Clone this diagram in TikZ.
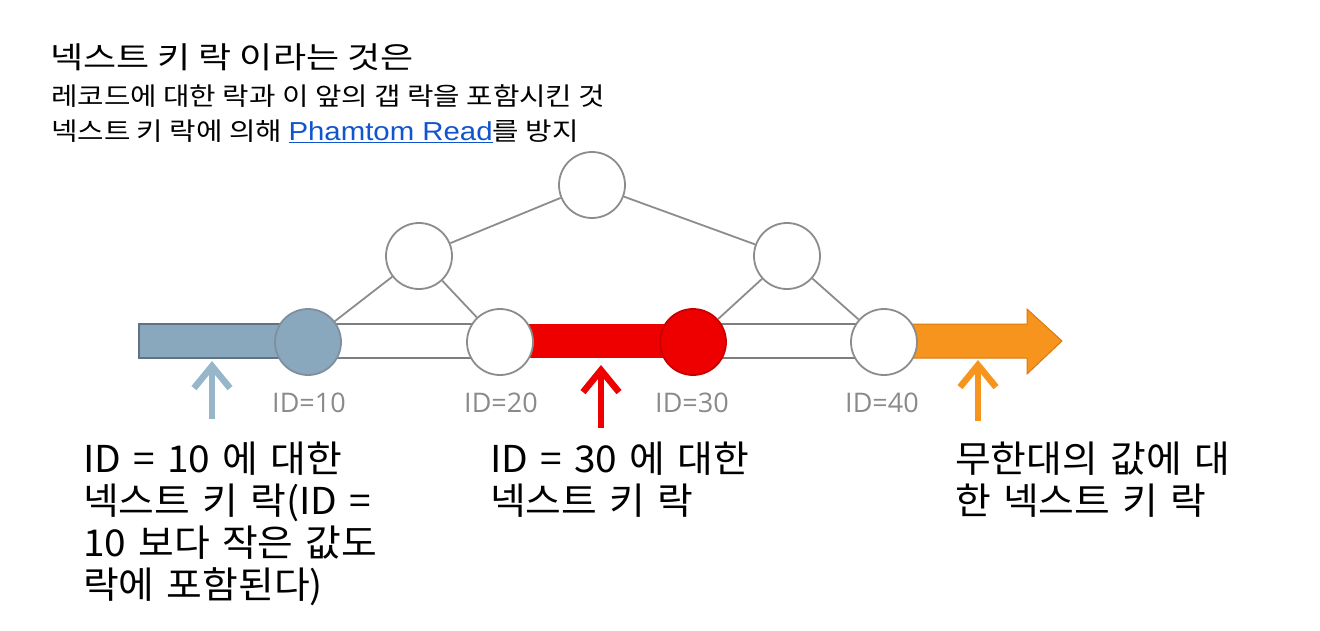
\documentclass[tikz,border=0pt]{standalone}
\usepackage{fontspec}
\setmainfont{Noto Sans CJK KR}
\newfontfamily\krtitle{Noto Sans CJK KR}[FakeStretch=1.2]
\newfontfamily\krsub{Noto Sans CJK KR}[FakeStretch=1.15]
\newfontfamily\latinsub{Liberation Sans}[FakeStretch=1.13]
\newfontfamily\krbig{Noto Sans CJK KR}[FakeStretch=1.05, WordSpace=1.4]
\newfontfamily\idfont{Open Sans}
\usetikzlibrary{arrows.meta}
\definecolor{bluegray}{HTML}{8AA8BD}
\definecolor{bluegrayedge}{HTML}{5F7384}
\definecolor{arrowblue}{HTML}{98B6CA}
\definecolor{lockred}{HTML}{EE0000}
\definecolor{lockredge}{HTML}{C80000}
\definecolor{lockorange}{HTML}{F7941D}
\definecolor{orangeedge}{HTML}{D97A10}
\definecolor{treegray}{HTML}{8C8C8C}
\definecolor{idgray}{HTML}{8A8A8A}
\definecolor{linkblue}{HTML}{1155CC}
\tikzset{
  treenode/.style={circle, draw=treegray, line width=1.8pt, fill=white, minimum size=66pt, inner sep=0pt},
  treeline/.style={draw=treegray, line width=1.8pt},
  rail/.style={draw=treegray!90!black, line width=1.8pt},
  idlabel/.style={font=\idfont\fontsize{27}{30}\selectfont, text=idgray, inner sep=0pt},
  uparrow/.style={line width=6.5pt, -{Straight Barb[length=22pt,width=36pt]}},
  bigtext/.style={font=\krbig\fontsize{37}{42}\selectfont, align=left, anchor=north west, inner sep=0pt},
}
\begin{document}
\begin{tikzpicture}[x=1pt,y=-1pt]
\useasboundingbox (0,0) rectangle (1320,630);
% texts at top
\node[anchor=north west, inner sep=0pt, font=\krtitle\fontsize{30}{34}\selectfont] (title) at (50,43) {넥스트 키 락 이라는 것은};
\node[anchor=north west, inner sep=0pt, align=left, font=\krsub\fontsize{25}{35}\selectfont] (sub) at (51,84)
  {레코드에 대한 락과 이 앞의 갭 락을 포함시킨 것\\넥스트 키 락에 의해 {\latinsub\fontsize{26}{35}\selectfont\color{linkblue}\underline{Phamtom Read}}를 방지};
% bar segments
\fill[bluegray] (139,324) rectangle (308,358);
\draw[bluegrayedge, line width=1.2pt] (308,324) -- (139,324) -- (139,358) -- (308,358);
\draw[rail] (308,324) -- (500,324) (308,358) -- (500,358);
\fill[lockred] (500,324) rectangle (693,358);
\draw[rail] (693,324) -- (884,324) (693,358) -- (884,358);
\filldraw[fill=lockorange, draw=orangeedge, line width=1pt] (884,324) -- (1027,324) -- (1027,309) -- (1062,341) -- (1027,374) -- (1027,358) -- (884,358) -- cycle;
% tree nodes
\node[treenode] (root) at (592,185) {};
\node[treenode] (left) at (419,256) {};
\node[treenode] (right) at (787,256) {};
\node[treenode, fill=bluegray, draw=bluegrayedge!80] (k10) at (308,342) {};
\node[treenode] (k20) at (500,342) {};
\node[treenode, fill=lockred, draw=lockredge] (k30) at (693,342) {};
\node[treenode] (k40) at (884,342) {};
\draw[treeline] (root) -- (left);
\draw[treeline] (root) -- (right);
\draw[treeline] (left) -- (k10);
\draw[treeline] (left) -- (k20);
\draw[treeline] (right) -- (k30);
\draw[treeline] (right) -- (k40);
% id labels
\node[idlabel] (l10) at (309,403) {ID=10};
\node[idlabel] (l20) at (501,403) {ID=20};
\node[idlabel] (l30) at (692,403) {ID=30};
\node[idlabel] (l40) at (882,403) {ID=40};
% up arrows
\coordinate (a1b) at (212,419); \coordinate (a1t) at (212,361);
\coordinate (a2b) at (601,428); \coordinate (a2t) at (601,365);
\coordinate (a3b) at (978,421); \coordinate (a3t) at (978,360);
\draw[uparrow, arrowblue] (a1b) -- (a1t);
\draw[uparrow, lockred] (a2b) -- (a2t);
\draw[uparrow, lockorange] (a3b) -- (a3t);
% bottom texts
\node[bigtext] (t1) at (83,442) {ID = 10 에 대한\\넥스트 키 락(ID =\\10 보다 작은 값도\\락에 포함된다)};
\node[bigtext] (t2) at (490,442) {ID = 30 에 대한\\넥스트 키 락};
\node[bigtext] (t3) at (955,442) {무한대의 값에 대\\한 넥스트 키 락};
\end{tikzpicture}
\end{document}
